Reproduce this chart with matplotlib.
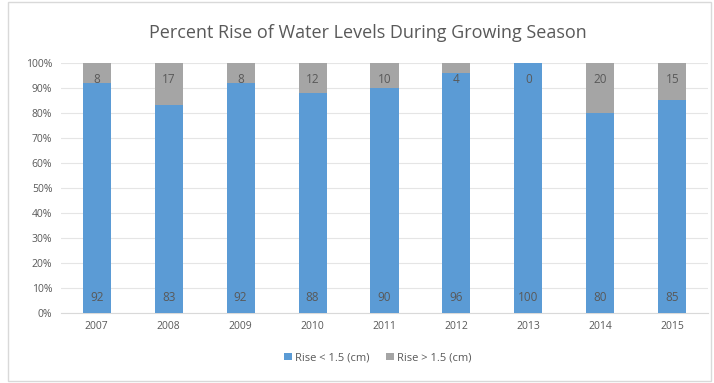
import matplotlib.pyplot as plt
from matplotlib.patches import Rectangle
import numpy as np

years = ["2007", "2008", "2009", "2010", "2011", "2012", "2013", "2014", "2015"]
rise_low = [92, 83, 92, 88, 90, 96, 100, 80, 85]
rise_high = [8, 17, 8, 12, 10, 4, 0, 20, 15]

BLUE = "#5B9BD5"
GRAY = "#A5A5A5"
TXT = "#595959"

plt.rcParams["font.family"] = ["Open Sans", "DejaVu Sans"]

fig = plt.figure(figsize=(7.14, 3.83), dpi=100)
fig.patches.append(Rectangle((0.011, 0.005), 0.985, 0.99, transform=fig.transFigure,
                             fill=False, edgecolor="#D9D9D9", linewidth=1))
ax = fig.add_axes([0.085, 0.183, 0.907, 0.653])

x = np.arange(len(years))
w = 0.39
ax.bar(x, rise_low, w, color=BLUE, label="Rise < 1.5 (cm)", zorder=3)
ax.bar(x, rise_high, w, bottom=rise_low, color=GRAY, label="Rise > 1.5 (cm)", zorder=3)

for i in range(len(years)):
    ax.text(x[i], 6, str(rise_low[i]), ha="center", va="center", fontsize=8.5, color=TXT, zorder=4)
    ax.text(x[i], 93.5, str(rise_high[i]), ha="center", va="center", fontsize=8.5, color=TXT, zorder=4)

ax.set_xlim(-0.5, len(years) - 0.5)
ax.set_ylim(0, 100)
ax.set_yticks(np.arange(0, 101, 10))
ax.set_yticklabels([f"{v}%" for v in range(0, 101, 10)])
ax.set_xticks(x)
ax.set_xticklabels(years)
ax.tick_params(length=0, labelsize=7.5, colors=TXT, pad=6)
ax.grid(axis="y", color="#E5E5E5", linewidth=0.8, zorder=0)
for s in ["top", "right", "left"]:
    ax.spines[s].set_visible(False)
ax.spines["bottom"].set_color("#D9D9D9")

fig.text(0.515, 0.915, "Percent Rise of Water Levels During Growing Season",
         ha="center", va="center", fontsize=13, color=TXT)

ax.legend(loc="center", bbox_to_anchor=(0.49, -0.18), ncol=2, frameon=False,
          fontsize=8, labelcolor=TXT, handlelength=0.7, handleheight=0.7,
          handletextpad=0.3, columnspacing=1.5)

fig.savefig("out.png", dpi=100)
